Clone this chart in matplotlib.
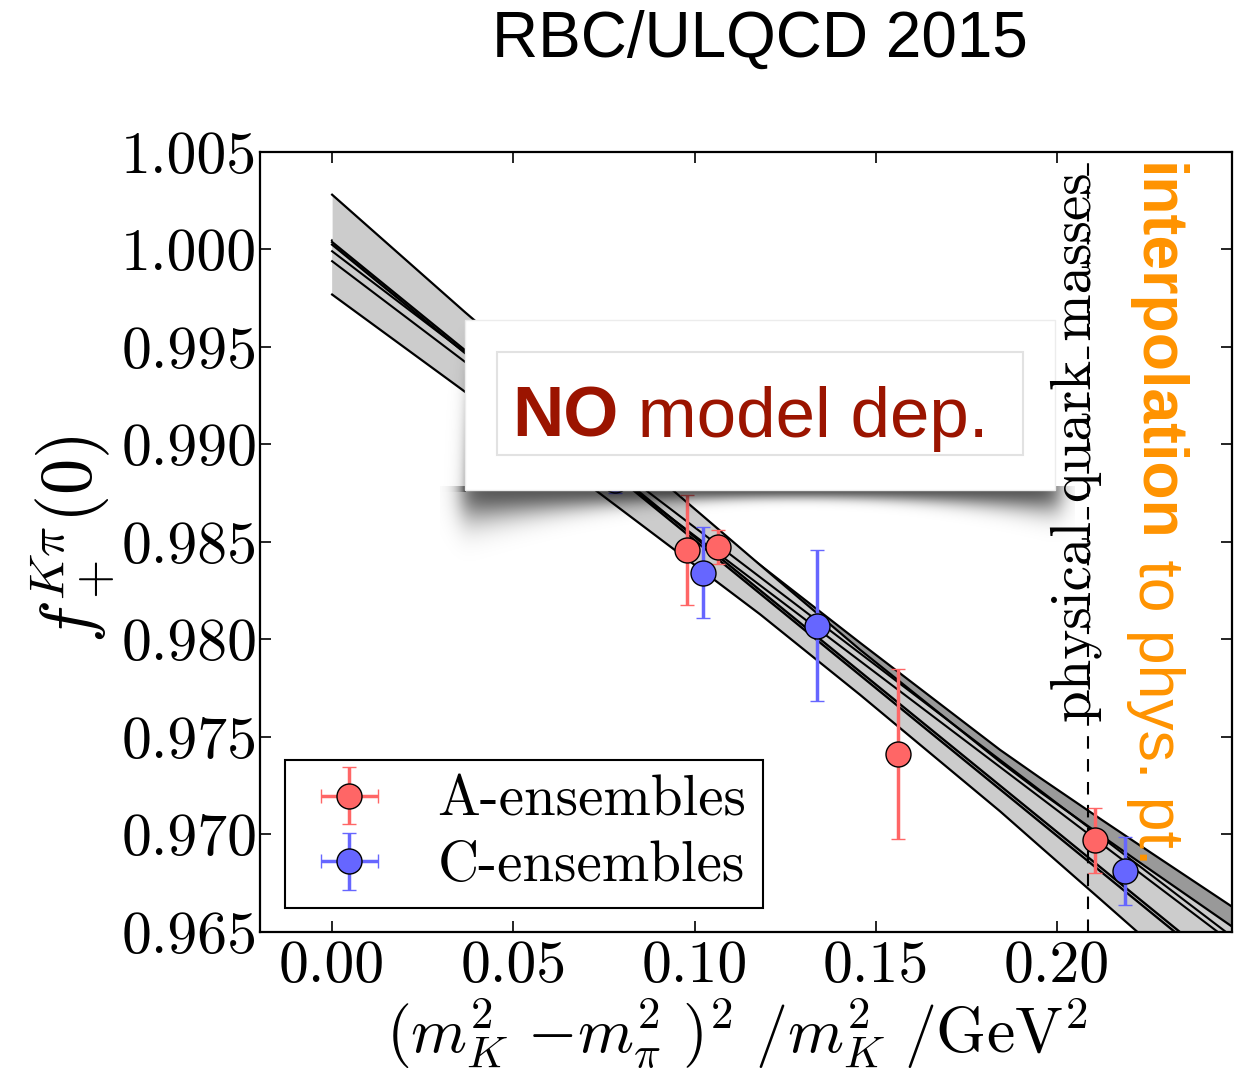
import numpy as np
import matplotlib
matplotlib.use('Agg')
import matplotlib.pyplot as plt
from matplotlib.patches import Rectangle
from matplotlib.text import Annotation

plt.rcParams['font.family'] = ['cmr10']
plt.rcParams['mathtext.fontset'] = 'cm'
plt.rcParams['axes.unicode_minus'] = False
plt.rcParams['axes.formatter.use_mathtext'] = True

########### lattice data
a_x = [0.0980, 0.1064, 0.1562, 0.2105]
a_y = [0.98459, 0.98473, 0.97414, 0.96970]
a_err = [0.00280, 0.00088, 0.00435, 0.00166]

c_x = [0.0781, 0.1024, 0.1339, 0.2188]
c_y = [0.98820, 0.98343, 0.98071, 0.96811]
c_err = [0.00070, 0.00235, 0.00386, 0.00174]

########### fit bands, edges tabulated at these x
band_x = [0.0, 0.0367, 0.1181, 0.1457, 0.1843, 0.1953, 0.2119, 0.2221, 0.2483]
light_hi = [1.00281, 0.99678, 0.98382, 0.97947, 0.97373, 0.97219, 0.96999,
            0.96866, 0.96528]
light_lo = [0.99769, 0.99270, 0.98129, 0.97716, 0.97119, 0.96939, 0.96669,
            0.96502, 0.96064]
dark_hi = [1.00047, 0.99509, 0.98382, 0.97983, 0.97434, 0.97291, 0.97081,
           0.96954, 0.96630]

# central values of the different ansaetze, f = a + b*x
fit_a = [1.00038, 1.00025, 0.99991, 0.99940]
fit_b = [-0.15124, -0.15158, -0.14154, -0.14075]
fit_lw = [1.7, 1.7, 1.5, 1.5]

phys_x = 0.2086

xticks = [0.00, 0.05, 0.10, 0.15, 0.20]
yticks = [0.965, 0.970, 0.975, 0.980, 0.985, 0.990, 0.995, 1.000, 1.005]

W, H = 1243, 1077
fig = plt.figure(figsize=(W / 100, H / 100), dpi=100)


def fx(px):
    return px / W


def fy(py):
    return 1 - py / H


ax = fig.add_axes([fx(260), fy(932), fx(1232) - fx(260), fy(152) - fy(932)])

# dark band goes underneath, only its upper part pokes out on the right
ax.fill_between(band_x, light_lo, dark_hi, color='#999999', lw=0, zorder=1)
ax.plot(band_x, dark_hi, 'k-', lw=1.6, zorder=1.05)
ax.fill_between(band_x, light_lo, light_hi, color='#cccccc', lw=0, zorder=1.5)
ax.plot(band_x, light_lo, 'k-', lw=1.6, zorder=2)
ax.plot(band_x, light_hi, 'k-', lw=1.6, zorder=2)

xx = np.array([0.0, 0.2483])
for a, b, lw in zip(fit_a, fit_b, fit_lw):
    ax.plot(xx, a + b * xx, 'k-', lw=lw, zorder=2)

ax.axvline(phys_x, color='k', ls='--', lw=1.5, dashes=(6, 5), zorder=2)

ax.errorbar(a_x, a_y, yerr=a_err, xerr=np.zeros(len(a_x)), fmt='o', ms=18,
            mfc='#ff6666', mec='k', mew=1.0, ecolor='#ff6666', elinewidth=2.5,
            capsize=5, capthick=2, label='A-ensembles', zorder=3)
ax.errorbar(c_x, c_y, yerr=c_err, xerr=np.zeros(len(c_x)), fmt='o', ms=18,
            mfc='#6666ff', mec='k', mew=1.0, ecolor='#6666ff', elinewidth=2.5,
            capsize=5, capthick=2, label='C-ensembles', zorder=3)

ax.set_xlim(-0.0199, 0.2483)
ax.set_ylim(0.965, 1.005)
ax.set_xticks(xticks)
ax.set_xticklabels(['%.2f' % v for v in xticks])
ax.set_yticks(yticks)
ax.set_yticklabels(['%.3f' % v for v in yticks])
ax.tick_params(direction='in', top=True, right=True, length=8, width=1.2,
               labelsize=43)
ax.tick_params(axis='x', pad=6)
ax.tick_params(axis='y', pad=2)
for s in ax.spines.values():
    s.set_linewidth(1.6)

ax.set_xlabel(r'$(m_K^2\ {-}m_\pi^2\ )^2\ /m_K^2\ /\mathrm{GeV}^2$', fontsize=46)
ax.xaxis.set_label_coords(0.49, -0.083)
ax.set_ylabel(r'$f_+^{K\pi}(0)$', fontsize=52)
ax.yaxis.set_label_coords(-0.148, 0.503)

leg = ax.legend(loc='lower left', bbox_to_anchor=(0.0257, 0.0308),
                borderaxespad=0, numpoints=1, fontsize=41, fancybox=False,
                framealpha=1, edgecolor='k', handlelength=1.7,
                handletextpad=0.7, borderpad=0.28, labelspacing=0.25)
leg.get_frame().set_linewidth(1.5)

########### slide overlays
fig.text(fx(760), fy(40), 'RBC/ULQCD 2015', family='Liberation Sans',
         fontsize=46, ha='center', va='center')

# soft shadow under the floating box
sx0, sx1, sy0, sy1 = 440, 1075, 300, 565
shax = fig.add_axes([fx(sx0), fy(sy1), fx(sx1) - fx(sx0), fy(sy0) - fy(sy1)],
                    zorder=5)
shax.set_axis_off()
gx, gy = np.meshgrid(np.arange(sx0, sx1) + 0.5, np.arange(sy0, sy1) + 0.5)
xc = 800.0
depth = np.where(gx < xc, 9 + 24 * ((xc - gx) / (xc - 465)) ** 2,
                 9 + 15 * ((gx - xc) / (1055 - xc)) ** 2)
below = np.clip(gy - 490, 0, None)
alpha = 0.65 * np.exp(-(below / depth) ** 2) * (gy > 486)
hfade = 1 / (1 + np.exp(-(gx - 462) / 6)) * 1 / (1 + np.exp((gx - 1060) / 6))
alpha = alpha * hfade
side = 0.3 * np.exp(-np.clip(465 - gx, 0, None) / 5) * (gx < 466) \
    * np.clip((gy - 320) / 170, 0, 1) * (gy < 492)
alpha = np.clip(alpha + side, 0, 1)
img = np.zeros(gx.shape + (4,))
img[..., 3] = alpha
shax.imshow(img, extent=[0, 1, 0, 1], aspect='auto', interpolation='bilinear')
shax.set_xlim(0, 1)
shax.set_ylim(0, 1)

box = Rectangle((fx(465), fy(490)), fx(1055) - fx(465), fy(320) - fy(490),
                transform=fig.transFigure, facecolor='white', edgecolor='#ececec',
                lw=1, zorder=6)
fig.add_artist(box)
inner = Rectangle((fx(497), fy(455)), fx(1023) - fx(497), fy(352) - fy(455),
                  transform=fig.transFigure, facecolor='white', edgecolor='#e2e2e2',
                  lw=1.5, zorder=7)
fig.add_artist(inner)

red = '#9b1400'
t_no = fig.text(fx(512), fy(437), 'NO', family='Liberation Sans', weight='bold',
                fontsize=51, color=red, ha='left', va='baseline', zorder=8)
fig.add_artist(Annotation(' model dep.', xy=(1, 0), xycoords=t_no, fontsize=51,
                          family='Liberation Sans', color=red, ha='left',
                          va='bottom', annotation_clip=False, zorder=8))

# label of the dashed line, above the box
fig.text(fx(1102), fy(722), 'physical quark masses', rotation=90, fontsize=41,
         ha='right', va='bottom', zorder=9)

orange = '#ff9300'
t_int = fig.text(fx(1126), fy(163), 'interpolation', family='Liberation Sans',
                 weight='bold', fontsize=45, color=orange, rotation=-90,
                 ha='left', va='top', zorder=9)
fig.add_artist(Annotation(' to phys. pt.', xy=(0, 0), xycoords=t_int, fontsize=45,
                          family='Liberation Sans', color=orange, rotation=-90,
                          ha='left', va='top', annotation_clip=False, zorder=9))

fig.savefig('out.png', dpi=100)
